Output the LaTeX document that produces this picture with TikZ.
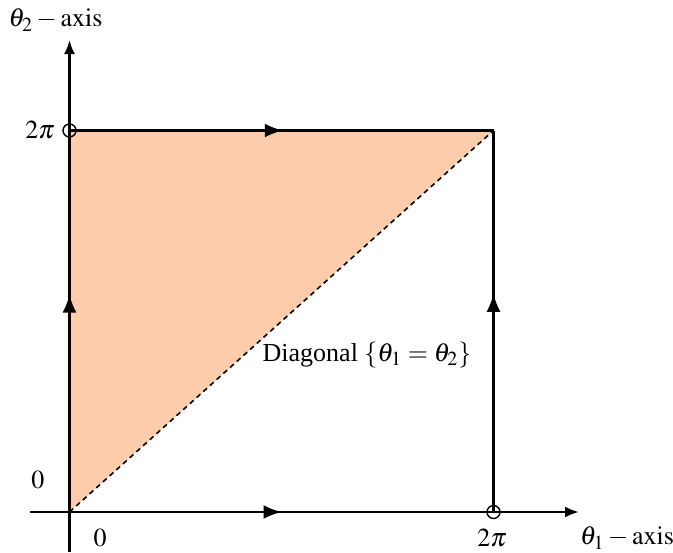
\documentclass[tikz,border=0pt]{standalone}
\usepackage{mathptmx}
\usepackage{fontspec}
\setmainfont{Liberation Serif}
\usetikzlibrary{arrows.meta,decorations.markings}

\DeclareMathSizes{13}{13}{10}{8}
\definecolor{peach}{RGB}{253,204,170}

\tikzset{
	axisline/.style={line width=1.2pt,-{Latex[length=7pt,width=5.5pt]}},
	sideline/.style={line width=1.1pt},
	midarrow/.style={postaction={decorate},
		decoration={markings,mark=at position #1 with {\arrow{Latex[length=9pt,width=7pt]}}}},
	hole/.style={circle,draw,line width=0.7pt,inner sep=0pt,minimum size=6.5pt},
	lbl/.style={font=\fontsize{13}{15}\selectfont,inner sep=0pt}
}

\begin{document}
\begin{tikzpicture}[x=0.5pt,y=-0.5pt]
	\useasboundingbox (0,0) rectangle (673,552);
	
	% ---- Corners of the square ----
	\coordinate (O) at (69.5,512);
	\coordinate (A) at (493.5,512);
	\coordinate (B) at (493.5,130.5);
	\coordinate (C) at (69.5,130.5);
	
	% ---- Axis ends ----
	\coordinate (xs) at (30,512);
	\coordinate (xe) at (579,512);
	\coordinate (ys) at (69.5,552);
	\coordinate (ye) at (69.5,40);
	
	% ---- Shaded half ----
	\fill[peach] (O) -- (C) -- (B) -- cycle;
	\draw[line width=0.8pt,dash pattern=on 2.5pt off 2pt] (O) -- (B);
	
	% ---- Axes ----
	\draw[axisline] (xs) -- (xe);
	\draw[axisline] (ys) -- (ye);
	
	% ---- Sides with arrows ----
	\foreach \from/\to/\pos in {O/A/0.50, C/B/0.503, O/C/0.57, A/B/0.572}
	\draw[sideline,midarrow=\pos] (\from) -- (\to);
	
	% ---- Open points ----
	\node[hole] (pC) at (C) {};
	\node[hole] (pA) at (A) {};
	
	% ---- Labels ----
	\node[lbl] (ylab) at (55.5,20) {$\theta_2-\mathrm{axis}$};
	\node[lbl] (xlab) at (627,538) {$\theta_1-\mathrm{axis}$};
	\node[lbl] (ytwo) at (40,130.5) {$2\pi$};
	\node[lbl] (yzero) at (38,480) {$0$};
	\node[lbl] (xzero) at (100,538) {$0$};
	\node[lbl] (xtwo) at (492,538) {$2\pi$};
	\node[lbl] (diag) at (367,355) {Diagonal $\{\theta_1=\theta_2\}$};
	
\end{tikzpicture}
\end{document}
